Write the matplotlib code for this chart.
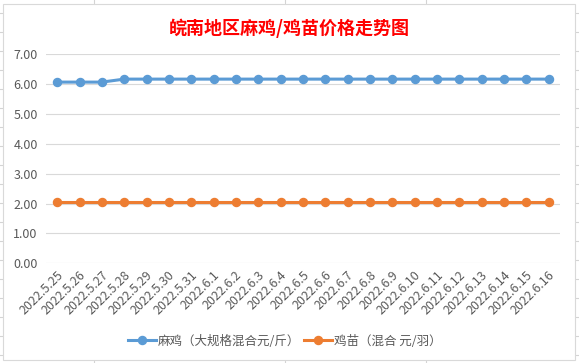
import matplotlib
matplotlib.use("Agg")
import matplotlib.pyplot as plt
from matplotlib.lines import Line2D
from matplotlib.patches import Rectangle
import matplotlib.transforms as mtransforms

plt.rcParams['font.family'] = ['Noto Sans CJK SC', 'DejaVu Sans']

dates = ["2022.5.25", "2022.5.26", "2022.5.27", "2022.5.28", "2022.5.29", "2022.5.30",
         "2022.5.31", "2022.6.1", "2022.6.2", "2022.6.3", "2022.6.4", "2022.6.5",
         "2022.6.6", "2022.6.7", "2022.6.8", "2022.6.9", "2022.6.10", "2022.6.11",
         "2022.6.12", "2022.6.13", "2022.6.14", "2022.6.15", "2022.6.16"]
maji = [6.06, 6.06, 6.06, 6.16, 6.16, 6.16, 6.16, 6.16, 6.16, 6.16, 6.16, 6.16,
        6.16, 6.16, 6.16, 6.16, 6.16, 6.16, 6.16, 6.16, 6.16, 6.16, 6.16]
jimiao = [2.06] * 23
yticks = [0, 1, 2, 3, 4, 5, 6, 7]
title = "皖南地区麻鸡/鸡苗价格走势图"
label_maji = "麻鸡（大规格混合元/斤）"
label_jimiao = "鸡苗（混合 元/羽）"

W, H = 579, 363
fig = plt.figure(figsize=(W / 100, H / 100), dpi=100)
fig.patch.set_facecolor("white")

# spreadsheet grid behind the chart
grid_c = "#D4D4D4"
for x in [94, 285, 426]:
    fig.add_artist(Line2D([x / W, x / W], [0, 1], color=grid_c, lw=0.8, zorder=0))
y = 13
while y < H:
    fig.add_artist(Line2D([0, 1], [1 - y / H, 1 - y / H], color=grid_c, lw=0.8, zorder=0))
    y += 19
# chart area
fig.add_artist(Rectangle((2.5 / W, 1 - 359.5 / H), (575 - 2.5) / W, (359.5 - 3.5) / H,
                         facecolor="white", edgecolor="#D9D9D9", lw=0.8, zorder=1))

ax = fig.add_axes([46 / W, 1 - 263.3 / H, (560 - 46) / W, (263.3 - 54) / H], zorder=2)
ax.set_facecolor("none")
x = list(range(len(dates)))
ax.plot(x, maji, color="#5B9BD5", lw=2.2, marker="o", ms=5.8, label=label_maji, zorder=3)
ax.plot(x, jimiao, color="#ED7D31", lw=2.2, marker="o", ms=5.8, label=label_jimiao, zorder=3)
ax.set_xlim(-0.5, len(dates) - 0.5)
ax.set_ylim(0, 7)
ax.set_yticks(yticks)
ax.set_yticklabels([f"{v:.2f}" for v in yticks], color="#595959", fontsize=9)
ax.yaxis.grid(True, color="#D9D9D9", lw=0.8)
ax.set_axisbelow(True)
for s in ax.spines.values():
    s.set_visible(False)
ax.tick_params(axis="both", length=0)
ax.tick_params(axis="y", pad=6)
ax.set_xticks(x)
ax.set_xticklabels(dates, rotation=45, ha="right", va="center", rotation_mode="anchor",
                   color="#595959", fontsize=9)
ax.tick_params(axis="x", pad=0)
offset = mtransforms.ScaledTranslation(4 / 100, -10 / 100, fig.dpi_scale_trans)
for lbl in ax.get_xticklabels():
    lbl.set_transform(lbl.get_transform() + offset)

fig.text(289 / W, 1 - 28 / H, title, color="#FF0000", fontsize=13, fontweight="bold",
         ha="center", va="center")

leg = fig.legend(loc="center", bbox_to_anchor=(285 / W, 1 - 341 / H), ncol=2, frameon=False,
                 fontsize=9, handlelength=2.2, columnspacing=0.3, handletextpad=0.2)
for t in leg.get_texts():
    t.set_color("#595959")

fig.savefig("out.png", dpi=100, facecolor="white")
